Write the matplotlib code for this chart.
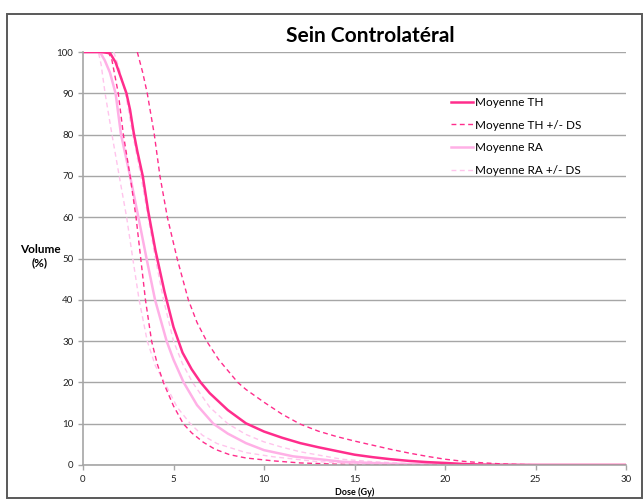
import matplotlib
matplotlib.use("Agg")
import matplotlib.pyplot as plt
from matplotlib.patches import Rectangle

plt.rcParams['font.family'] = ['Lato', 'DejaVu Sans']

# Moyenne TH
th_dose = [0, 1.0, 1.5, 1.8, 2.0, 2.2, 2.4, 2.6, 2.8, 3.0, 3.3, 3.6, 4.0, 4.5, 5.0, 5.5, 6.0, 6.5,
           7.0, 8.0, 9.0, 10, 11, 12, 13, 14, 15, 16, 17, 18, 19, 20, 21, 22, 23, 25, 30]
th_vol = [100, 100, 99.7, 97.5, 95, 92.5, 90, 86, 80.5, 76, 70, 61.5, 52, 42, 33.4, 27.2, 23.2, 20.0,
          17.4, 13.3, 10.1, 8.1, 6.6, 5.3, 4.3, 3.4, 2.5, 1.9, 1.4, 1.0, 0.7, 0.5, 0.25, 0.1, 0.04, 0, 0]

# Moyenne TH + DS
thp_dose = [3.0, 3.3, 3.55, 3.94, 4.25, 4.66, 5.2, 5.82, 6.3, 6.83, 7.5, 8.55, 9.0, 10, 11, 12, 13,
            14, 15, 16, 17, 18, 19, 20, 21, 22, 23, 24, 25, 26, 30]
thp_vol = [100, 95, 90, 80, 70, 60, 50, 40, 34.5, 30, 25.5, 20, 18.3, 15.2, 12.3, 9.9, 8.2,
           6.9, 5.8, 4.8, 3.8, 2.9, 2.1, 1.4, 0.9, 0.55, 0.3, 0.15, 0.05, 0, 0]

# Moyenne TH - DS
thm_dose = [0, 1.4, 1.6, 1.73, 1.95, 2.23, 2.6, 2.93, 3.19, 3.45, 3.79, 4.1, 4.44, 5.0, 5.54, 6.0,
            6.65, 7.3, 8.1, 9.0, 10.5, 12, 14, 16, 30]
thm_vol = [100, 100, 98, 95, 90, 80, 70, 60, 50, 40, 30, 24.5, 20, 14.3, 10, 7.8,
           5.5, 3.8, 2.5, 1.7, 1.0, 0.5, 0.2, 0, 0]

# Moyenne RA
ra_dose = [0, 0.85, 1.0, 1.2, 1.49, 1.8, 2.1, 2.6, 3.06, 3.51, 3.98, 4.62, 5.0, 5.56, 6.3, 7.2,
           8.0, 9.0, 10, 11.6, 14.3, 17, 20, 22, 30]
ra_vol = [100, 100, 99.5, 98, 95, 90, 80, 70, 60, 50, 40, 30, 25.5, 20, 14.5, 10,
          7.6, 5.3, 3.6, 2.1, 0.8, 0.3, 0.1, 0, 0]

# Moyenne RA + DS
rap_dose = [1.7, 2.0, 2.35, 2.75, 3.2, 3.6, 4.0, 4.45, 5.0, 5.5, 6.05, 7.0, 8.0, 9.0, 10, 11, 12,
            14.3, 16, 18, 20, 22, 30]
rap_vol = [100, 96, 90, 80, 70, 60, 50, 40, 30, 24.5, 20, 14, 10, 7.4, 5.6, 4.3, 3.2,
           1.4, 0.8, 0.35, 0.15, 0, 0]

# Moyenne RA - DS
ram_dose = [0, 0.85, 1.0, 1.22, 1.6, 2.0, 2.41, 2.75, 3.1, 3.55, 4.0, 4.5, 5.2, 5.93, 6.6, 7.4,
            9.0, 10.5, 13, 16, 20, 30]
ram_vol = [100, 100, 97, 90, 80, 70, 60, 50, 40, 30, 24, 20, 14, 10, 7.2, 5.2,
           3.0, 2.0, 0.8, 0.2, 0, 0]

dark = '#FF2D8C'
light = '#FFB0E6'
light_dash = '#FFC4EC'
dash = (0, (3.5, 2.5))

fig = plt.figure(figsize=(6.44, 4.99), dpi=100)
fig.patches.append(Rectangle((7 / 644, 1 / 499), 635 / 644, 484 / 499, transform=fig.transFigure,
                             fill=False, edgecolor='#595959', linewidth=1.4))

ax = fig.add_axes([83 / 644, 34 / 499, 543 / 644, 413 / 499])

ax.plot(ram_dose, ram_vol, color=light_dash, lw=1.0, ls=dash)
ax.plot(rap_dose, rap_vol, color=light_dash, lw=1.0, ls=dash)
ax.plot(ra_dose, ra_vol, color=light, lw=1.8)
ax.plot(thm_dose, thm_vol, color=dark, lw=1.0, ls=dash)
ax.plot(thp_dose, thp_vol, color=dark, lw=1.0, ls=dash)
ax.plot(th_dose, th_vol, color=dark, lw=1.8)

ax.set_xlim(0, 30)
ax.set_ylim(0, 100)
ax.set_xticks(range(0, 31, 5))
ax.set_yticks(range(0, 101, 10))
ax.yaxis.grid(True, color='#A6A6A6', lw=1.0)
ax.set_axisbelow(True)
for s in ['top', 'right']:
    ax.spines[s].set_visible(False)
for s in ['left', 'bottom']:
    ax.spines[s].set_color('#A6A6A6')
    ax.spines[s].set_linewidth(1.2)
ax.tick_params(axis='both', labelsize=7, colors='#A6A6A6', labelcolor='#222222', length=3.5, width=1)

ax.set_xlabel('Dose (Gy)', fontsize=6.5, fontweight='bold', labelpad=3)
fig.text(40 / 644, 1 - 256 / 499, 'Volume\n(%)', fontsize=8.5, fontweight='bold',
         ha='center', va='center', linespacing=1.25)
fig.text(370 / 644, 1 - 36 / 499, 'Sein Controlatéral', fontsize=15, fontweight='bold',
         ha='center', va='center')

handles = [
    plt.Line2D([], [], color=dark, lw=1.8),
    plt.Line2D([], [], color=dark, lw=1.0, ls=dash),
    plt.Line2D([], [], color=light, lw=1.8),
    plt.Line2D([], [], color=light_dash, lw=1.0, ls=dash),
]
labels = ['Moyenne TH', 'Moyenne TH +/- DS', 'Moyenne RA', 'Moyenne RA +/- DS']
fig.legend(handles, labels, loc='upper left', bbox_to_anchor=(451 / 644, 1 - 97 / 499),
           frameon=False, fontsize=8.5, handlelength=1.9, handletextpad=0.15, labelspacing=0.98,
           borderaxespad=0, borderpad=0)

fig.savefig('out.png', dpi=100)
